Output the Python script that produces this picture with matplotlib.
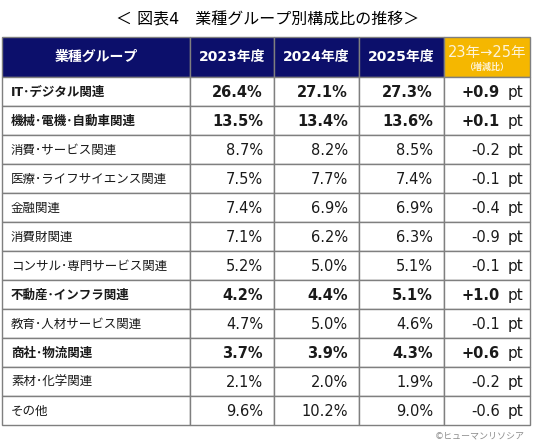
import matplotlib.pyplot as plt
from matplotlib.patches import Rectangle

plt.rcParams['font.family'] = ['DejaVu Sans', 'Noto Sans CJK JP']

title = '＜ 図表4　業種グループ別構成比の推移＞'
col_headers = ['業種グループ', '2023年度', '2024年度', '2025年度']
diff_header = '23年→25年'
diff_sub = '（増減比）'

groups = ['IT･デジタル関連', '機械･電機･自動車関連', '消費･サービス関連',
          '医療･ライフサイエンス関連', '金融関連', '消費財関連',
          'コンサル･専門サービス関連', '不動産･インフラ関連',
          '教育･人材サービス関連', '商社･物流関連', '素材･化学関連', 'その他']
share_2023 = [26.4, 13.5, 8.7, 7.5, 7.4, 7.1, 5.2, 4.2, 4.7, 3.7, 2.1, 9.6]
share_2024 = [27.1, 13.4, 8.2, 7.7, 6.9, 6.2, 5.0, 4.4, 5.0, 3.9, 2.0, 10.2]
share_2025 = [27.3, 13.6, 8.5, 7.4, 6.9, 6.3, 5.1, 5.1, 4.6, 4.3, 1.9, 9.0]
diff_pt = [0.9, 0.1, -0.2, -0.1, -0.4, -0.9, -0.1, 1.0, -0.1, 0.6, -0.2, -0.6]
bold_rows = [0, 1, 7, 9]

navy = '#0c0f6b'
gold = '#f5b700'
line_c = '#7f7f7f'
txt_c = '#1a1a1a'

fig = plt.figure(figsize=(5.36, 4.48), dpi=100)
ax = fig.add_axes([0, 0, 1, 1])
ax.set_xlim(0, 536)
ax.set_ylim(448, 0)
ax.axis('off')

col_x = [2, 190, 274, 359, 444, 530]
top = 37
head_h = 40
row_h = 29

ax.text(268, 20, title, ha='center', va='center', fontsize=11.5)

# header
for i in range(5):
    fc = gold if i == 4 else navy
    ax.add_patch(Rectangle((col_x[i], top), col_x[i + 1] - col_x[i], head_h,
                           facecolor=fc, edgecolor=line_c, lw=1))
for i, h in enumerate(col_headers):
    ax.text((col_x[i] + col_x[i + 1]) / 2, top + head_h / 2, h, ha='center',
            va='center', color='white', fontsize=10, fontweight='bold')
cx = (col_x[4] + col_x[5]) / 2
ax.text(cx, top + 15, diff_header, ha='center', va='center', color='#fdf3d8',
        fontsize=10.5)
ax.text(cx, top + 30, diff_sub, ha='center', va='center', color='#fdf3d8',
        fontsize=6.5, fontweight='bold')

# body
y0 = top + head_h
for r, g in enumerate(groups):
    y = y0 + r * row_h
    for i in range(5):
        ax.add_patch(Rectangle((col_x[i], y), col_x[i + 1] - col_x[i], row_h,
                               facecolor='white', edgecolor=line_c, lw=1))
    fw = 'bold' if r in bold_rows else 'normal'
    yc = y + row_h / 2 + 1
    ax.text(col_x[0] + 9, yc, g, ha='left', va='center', fontsize=9,
            fontweight=fw, color=txt_c)
    for i, v in enumerate([share_2023[r], share_2024[r], share_2025[r]]):
        ax.text(col_x[i + 2] - 11, yc, f'{v:.1f}%', ha='right', va='center',
                fontsize=10.5, fontweight=fw, color=txt_c)
    d = diff_pt[r]
    ax.text(col_x[5] - 30, yc, f'{d:+.1f}', ha='right', va='center',
            fontsize=10.5, fontweight=fw, color=txt_c)
    ax.text(col_x[5] - 7, yc, 'pt', ha='right', va='center',
            fontsize=11, color=txt_c)

ax.text(525, 436, '©ヒューマンリソシア', ha='right', va='center', fontsize=6.5,
        color='#8c8c8c')

fig.savefig('out.png', dpi=100)
